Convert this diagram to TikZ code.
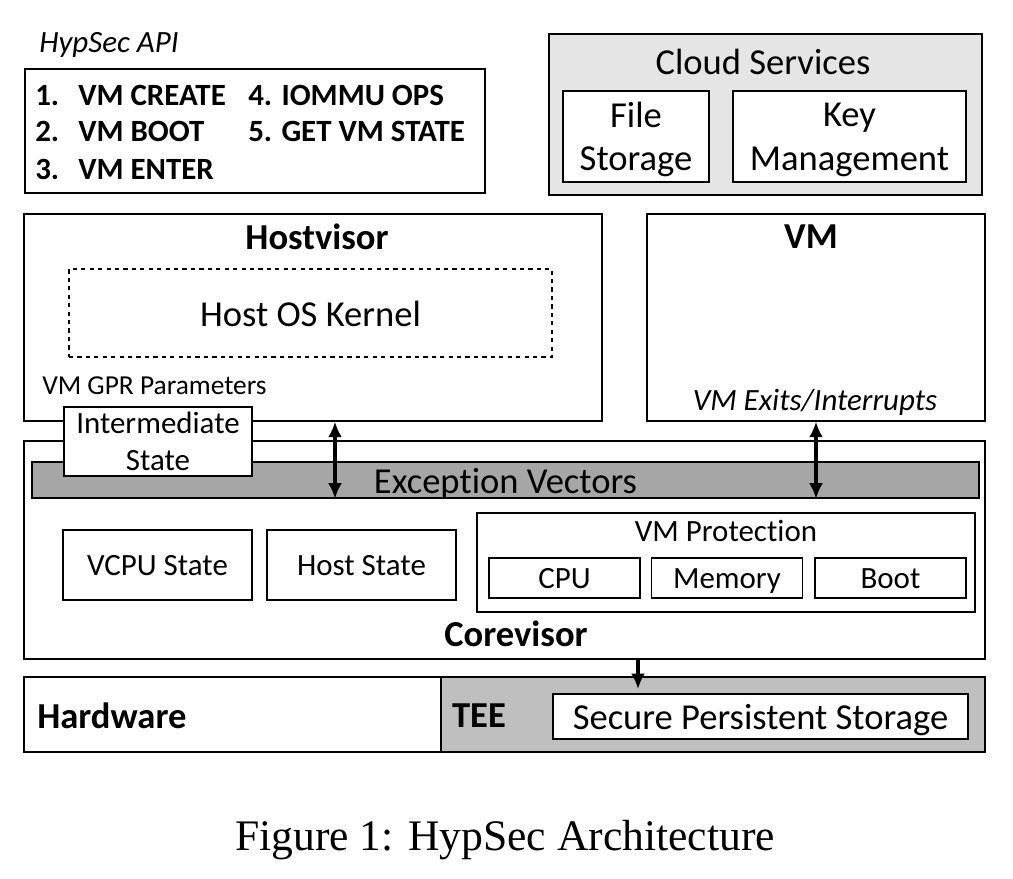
\documentclass[tikz,border=0pt]{standalone}
\usepackage{fontspec}
\setmainfont[Ligatures=NoCommon]{Carlito}
\newfontfamily\capfont{Liberation Serif}
\usepackage{tikz}
\usetikzlibrary{arrows.meta,positioning,calc}
\tikzset{
    x=0.025cm, y=-0.025cm,
    box/.style={draw, rectangle, line width=1pt, inner sep=0pt, align=center, fill=white},
    twoline/.style={text depth=0pt},
    big/.style={font=\fontsize{26}{31}\selectfont},
    mid/.style={font=\fontsize{22}{26}\selectfont},
    onebig/.style={big, text height=18.5pt, text depth=0pt},
    onemid/.style={mid, text height=15.5pt, text depth=0pt},
    head/.style={font=\fontsize{26}{31}\selectfont\bfseries},
    apiitem/.style={font=\fontsize{22}{26}\selectfont\bfseries, anchor=west, inner sep=0pt},
    biarrow/.style={{Latex[length=11pt,width=10pt]}-{Latex[length=11pt,width=10pt]}, line width=2.6pt},
    onearrow/.style={-{Latex[length=11pt,width=10pt]}, line width=2.6pt}
}

\begin{document}
\begin{tikzpicture}
    \useasboundingbox (0,0) rectangle (1013,879);
    % API list
    \node[box, minimum width=11.5cm, minimum height=3.1cm] (api) at (255,131) {};
    \node[mid, font=\fontsize{22}{26}\selectfont\itshape] (apititle) at (109,45) {HypSec API};
    \foreach \i/\txt/\y in {1/VM CREATE/95, 2/VM BOOT/131, 3/VM ENTER/169}
        \node[apiitem] (api\i) at (35,\y) {\makebox[1.075cm][l]{\i.}\txt};
    \foreach \i/\txt/\y in {4/IOMMU OPS/95, 5/GET VM STATE/131}
        \node[apiitem] (api\i) at (248,\y) {\i. \txt};
    % Cloud services
    \node[box, fill=gray!20, minimum width=10.825cm, minimum height=4.025cm] (cloud) at (765.5,114.5) {};
    \node[big] (cloudtitle) at (763,62) {Cloud Services};
    \node[box, big, twoline, minimum width=3.65cm, minimum height=2.275cm] (files) at (636,136.5) {File\\Storage};
    \node[box, big, twoline, minimum width=5.825cm, minimum height=2.275cm] (keymgmt) at (849.5,136.5) {Key\\Management};
    % Hostvisor and VM
    \node[box, minimum width=14.45cm, minimum height=5.175cm] (hostvisor) at (313,317.5) {};
    \node[head] (hvtitle) at (317,237) {Hostvisor};
    \node[box, dashed, onebig, minimum width=12.075cm, minimum height=2.2cm] (kernel) at (310.5,313) {Host OS Kernel};
    \node[font=\fontsize{19.5}{23}\selectfont, anchor=west, inner sep=0pt] (gpr) at (42,386) {VM GPR Parameters};
    \node[box, minimum width=8.45cm, minimum height=5.175cm] (vm) at (816,317.5) {};
    \node[head] (vmtitle) at (811,237) {VM};
    \node[font=\fontsize{22}{26}\selectfont\itshape] (vmexits) at (815,402) {VM Exits/Interrupts};
    % Corevisor
    \node[box, minimum width=24.025cm, minimum height=5.45cm] (corevisor) at (504.5,550) {};
    \node[box, fill=gray!70, onebig, minimum width=23.675cm, minimum height=0.9cm] (excvec) at (505.5,480) {Exception Vectors};
    \node[box, mid, twoline, minimum width=4.7cm, minimum height=1.725cm] (inter) at (158,441.5) {Intermediate\\State};
    \node[box, onemid, minimum width=4.725cm, minimum height=1.75cm] (vcpu) at (157.5,565) {VCPU State};
    \node[box, onemid, minimum width=4.725cm, minimum height=1.75cm] (hoststate) at (361.5,565) {Host State};
    \node[box, minimum width=12.45cm, minimum height=2.475cm] (vmprot) at (726,562.5) {};
    \node[mid] (prottitle) at (726,531) {VM Protection};
    \foreach \name/\txt/\x in {cpu/CPU/564.5, mem/Memory/727, boot/Boot/890.5}
        \node[box, onemid, minimum width=3.78cm, minimum height=1cm] (\name) at (\x,578) {\txt};
    \node[head] (cvtitle) at (516,634) {Corevisor};
    % Hardware and TEE
    \node[box, minimum width=10.425cm, minimum height=1.875cm] (hw) at (232.5,714.5) {};
    \node[head, anchor=west, inner sep=0pt] (hwtitle) at (37,716) {Hardware};
    \node[box, fill=gray!50, minimum width=13.6cm, minimum height=1.875cm] (tee) at (713,714.5) {};
    \node[head] (teetitle) at (479,716) {TEE};
    \node[box, onebig, minimum width=10.375cm, minimum height=1.125cm] (sps) at (760.5,716.5) {Secure Persistent Storage};
    % Links
    \coordinate (hvlink) at (335,0);
    \coordinate (teelink) at (638,0);
    \draw[biarrow] (hvlink |- hostvisor.south) -- (hvlink |- excvec.south);
    \draw[biarrow] (vm.south) -- (vm.south |- excvec.south);
    \draw[onearrow, shorten >=3pt] (teelink |- corevisor.south) -- (teelink |- sps.north);
    % Caption
    \node[font=\capfont\fontsize{31}{36}\selectfont] (caption) at (505,840) {Figure 1: HypSec Architecture};
\end{tikzpicture}
\end{document}
